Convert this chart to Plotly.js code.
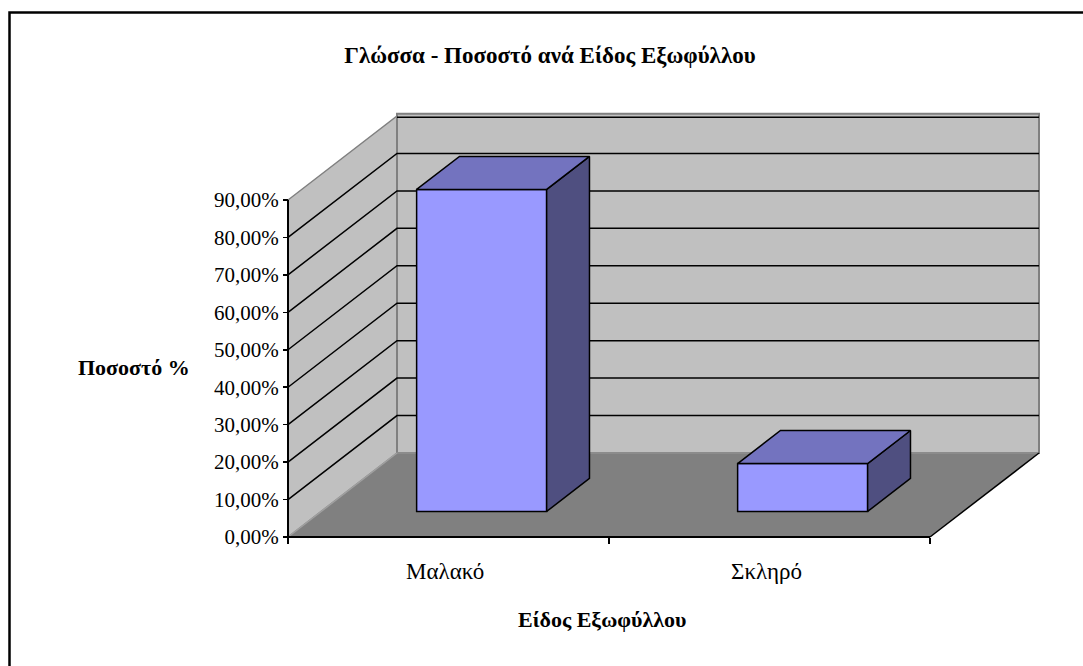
<!DOCTYPE html>
<html>
<head>
<meta charset="utf-8">
<script src="https://cdn.plot.ly/plotly-3.0.1.min.js"></script>
<style>html,body{margin:0;padding:0;background:#fff;}</style>
</head>
<body>
<div id="chart" style="width:1083px;height:666px;"></div>
<script>
// ---- data ----
const categories = ['Μαλακό', 'Σκληρό'];
const values = [86.0, 12.8];               // percent
const yTickVals = [0, 10, 20, 30, 40, 50, 60, 70, 80, 90];
const yTickText = ['0,00%', '10,00%', '20,00%', '30,00%', '40,00%', '50,00%', '60,00%', '70,00%', '80,00%', '90,00%'];
const chartTitle = 'Γλώσσα - Ποσοστό ανά Είδος Εξωφύλλου';
const xTitle = 'Είδος Εξωφύλλου';
const yTitle = 'Ποσοστό %';

// ---- geometry (layout) ----
const W = 1083, H = 666;
const PAD = 10;
const L = 278, R = 38, T = 110, B = 119;
const plotW = W - L - R, plotH = H - T - B;
const pxPerU = 321, pxPerPct = 3.7444;
const DX = 109 / pxPerU, DY = 84 / pxPerPct;   // depth offsets in data units
const YMAX = 90;
const NCAT = categories.length;
const barW = 0.405, d0 = 0.304, d1 = 0.697;
const FONT = '"Liberation Serif", "Times New Roman", serif';

const px2x = p => (p - L) / plotW;
const py2y = p => (H - B - p) / plotH;

// ---- traces ----
const centers = categories.map((c, i) => i + 0.5);
const frontX = centers.map(c => c + DX * d0);
const baseY = DY * d0;

const frontFace = {
  type: 'bar', x: frontX, y: values, base: values.map(() => baseY), width: barW,
  marker: {color: '#9999FF', line: {color: '#000', width: 1.5}},
  hoverinfo: 'skip', showlegend: false
};

const ddx = DX * (d1 - d0), ddy = DY * (d1 - d0);
const topX = [], topY = [], sideX = [], sideY = [];
values.forEach((v, i) => {
  const xl = frontX[i] - barW / 2, xr = frontX[i] + barW / 2, yt = baseY + v;
  topX.push(xl, xr, xr + ddx, xl + ddx, xl, null);
  topY.push(yt, yt, yt + ddy, yt + ddy, yt, null);
  sideX.push(xr, xr, xr + ddx, xr + ddx, xr, null);
  sideY.push(baseY, yt, yt + ddy, baseY + ddy, baseY, null);
});
const sideFace = {type: 'scatter', mode: 'lines', x: sideX, y: sideY, fill: 'toself',
  fillcolor: '#4F4F80', line: {color: '#000', width: 1.5}, hoverinfo: 'skip', showlegend: false};
const topFace = {type: 'scatter', mode: 'lines', x: topX, y: topY, fill: 'toself',
  fillcolor: '#7373BF', line: {color: '#000', width: 1.5}, hoverinfo: 'skip', showlegend: false};

// ---- walls, floor, gridlines (shapes below traces) ----
const shapes = [];
shapes.push({type: 'path', xref: 'x', yref: 'y', layer: 'below',
  path: `M 0,0 L 0,${YMAX} L ${DX},${YMAX + DY} L ${DX},${DY} Z`,
  fillcolor: '#C0C0C0', line: {color: '#808080', width: 1.5}});
shapes.push({type: 'rect', xref: 'x', yref: 'y', layer: 'below',
  x0: DX, x1: NCAT + DX, y0: DY, y1: YMAX + DY + 0.6,
  fillcolor: '#C0C0C0', line: {color: '#808080', width: 2}});
shapes.push({type: 'path', xref: 'x', yref: 'y', layer: 'below',
  path: `M 0,0 L ${DX},${DY} L ${NCAT + DX},${DY} L ${NCAT},0 Z`,
  fillcolor: '#808080', line: {width: 0}});
shapes.push({type: 'line', xref: 'x', yref: 'y', layer: 'below',
  x0: DX, y0: DY, x1: NCAT + DX, y1: DY, line: {color: '#8C8C8C', width: 2}});
shapes.push({type: 'line', xref: 'x', yref: 'y', layer: 'below',
  x0: 0, y0: 0, x1: DX, y1: DY, line: {color: '#A0A0A0', width: 1.5}});
yTickVals.filter(v => v > 0).forEach(v => {
  const path = v < YMAX
    ? `M 0,${v} L ${DX},${v + DY} L ${NCAT + DX},${v + DY}`
    : `M ${DX},${v + DY - 0.3} L ${NCAT + DX},${v + DY - 0.3}`;
  shapes.push({type: 'path', xref: 'x', yref: 'y', layer: 'below', path,
    line: {color: '#000', width: 1.5}});
});
// floor right edge, axis lines
shapes.push({type: 'line', xref: 'x', yref: 'y', layer: 'above',
  x0: NCAT, y0: 0, x1: NCAT + DX, y1: DY, line: {color: '#000', width: 1.5}});
shapes.push({type: 'line', xref: 'x', yref: 'y', layer: 'above',
  x0: 0, y0: 0, x1: NCAT, y1: 0, line: {color: '#000', width: 2}});
shapes.push({type: 'line', xref: 'x', yref: 'y', layer: 'above',
  x0: 0, y0: 0, x1: 0, y1: YMAX, line: {color: '#000', width: 2}});
// outer frame
shapes.push({type: 'rect', xref: 'paper', yref: 'paper',
  x0: px2x(9.5), y0: py2y(12.5), x1: px2x(1200), y1: py2y(800),
  line: {color: '#000', width: 2.5}, fillcolor: 'rgba(0,0,0,0)'});

// ---- annotations ----
const annotations = categories.map((c, i) => ({
  text: c, xref: 'x', x: centers[i] - 0.01, yref: 'paper', y: py2y(571),
  xanchor: 'center', yanchor: 'middle', showarrow: false,
  font: {family: FONT, size: 23, color: '#000'}
}));
annotations.push({text: '<b>' + xTitle + '</b>', xref: 'paper', yref: 'paper',
  x: px2x(602), y: py2y(619), xanchor: 'center', yanchor: 'middle', showarrow: false,
  font: {family: FONT, size: 22, color: '#000'}});
annotations.push({text: '<b>' + yTitle + '</b>', xref: 'paper', yref: 'paper',
  x: px2x(134), y: py2y(367), xanchor: 'center', yanchor: 'middle', showarrow: false,
  font: {family: FONT, size: 22, color: '#000'}});

const layout = {
  width: W, height: H, autosize: false,
  margin: {l: L, r: R, t: T, b: B, pad: 0},
  paper_bgcolor: '#fff', plot_bgcolor: 'rgba(0,0,0,0)',
  showlegend: false,
  title: {text: '<b>' + chartTitle + '</b>', x: 550 / W, xanchor: 'center',
    y: 1 - 55 / H, yanchor: 'middle', yref: 'container',
    font: {family: FONT, size: 23, color: '#000'}},
  xaxis: {range: [-PAD / pxPerU, (plotW - PAD) / pxPerU], anchor: 'free', position: PAD / plotH,
    showgrid: false, zeroline: false, showline: false,
    tickvals: [0, 1, 2], ticks: 'outside', ticklen: 6, tickwidth: 1.5, tickcolor: '#000',
    showticklabels: false, fixedrange: true},
  yaxis: {range: [-PAD / pxPerPct, (plotH - PAD) / pxPerPct], anchor: 'free', position: PAD / plotW,
    showgrid: false, zeroline: false, showline: false,
    tickvals: yTickVals, ticktext: yTickText, ticks: 'outside', ticklen: 5, tickwidth: 1.5,
    tickcolor: '#000', tickfont: {family: FONT, size: 21, color: '#000'}, fixedrange: true},
  shapes, annotations,
  bargap: 0
};

Plotly.newPlot('chart', [frontFace, sideFace, topFace], layout, {displayModeBar: false, staticPlot: true});
</script>
</body>
</html>
